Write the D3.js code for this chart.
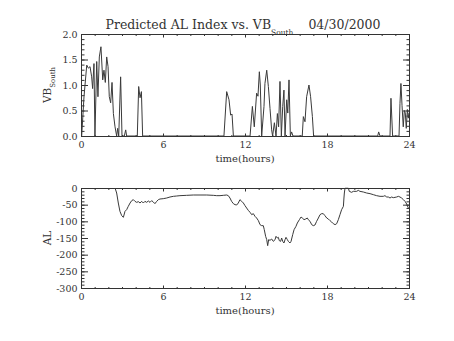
<!DOCTYPE html>
<html>
<head>
<meta charset="utf-8">
<script src="https://cdn.jsdelivr.net/npm/d3@7"></script>
<style>
  html, body { margin: 0; padding: 0; background: #fff; }
  svg { display: block; }
  text { font-family: "DejaVu Serif", "Liberation Serif", serif; fill: #333; }
</style>
</head>
<body>
<svg id="chart" width="454" height="341"></svg>
<script>
// Solar wind driver VB_South (mV/m) through the day
const vbTime = [0, 0.05, 0.22, 0.42, 0.54, 0.66, 0.78, 0.85, 0.95, 1.02, 1.15, 1.24, 1.34, 1.46, 1.59, 1.68, 1.78, 1.88, 1.98, 2.07, 2.17, 2.27, 2.37, 2.49, 2.61, 2.68, 2.76, 2.9, 3.0, 3.17, 3.27, 3.34,
  4.12, 4.22, 4.32, 4.42, 4.51,
  10.46, 10.66, 10.83, 10.95, 11.05, 11.15,
  12.37, 12.54, 12.68, 12.85, 12.95, 13.05, 13.12, 13.22, 13.39, 13.46, 13.59, 13.71, 13.83, 13.95, 14.02, 14.15, 14.27, 14.37, 14.46, 14.56, 14.66, 14.76, 14.85, 14.93, 15.05, 15.13, 15.22, 15.32, 15.41, 15.51,
  16.19, 16.27, 16.39, 16.51, 16.68, 16.8, 16.93, 17.02,
  21.71, 21.78, 21.88,
  22.61, 22.68, 22.8,
  23.27, 23.34, 23.41, 23.49, 23.58, 23.66, 23.73, 23.8, 23.88, 23.95, 24];
const vbValue = [0, 0, 0.77, 1.39, 1.33, 1.36, 1.16, 0.93, 1.42, 0, 1.46, 0.77, 1.55, 1.75, 1.1, 1.29, 1.05, 1.55, 1.36, 0.77, 0.65, 1.05, 0.44, 0.18, 0, 0.15, 0, 1.16, 0, 0, 0.12, 0,
  0, 0.97, 0.75, 0.87, 0,
  0, 0.87, 0.71, 0.41, 0.43, 0,
  0, 0.58, 0.18, 0.84, 0.78, 1.26, 1.0, 0, 0.58, 1.03, 1.29, 0.97, 0.54, 0.12, 0, 0.26, 0, 0.44, 0.18, 1.07, 0, 0.58, 0.9, 0, 0.71, 0.45, 1.1, 0, 0.08, 0,
  0, 0.38, 0.28, 0.77, 1.0, 0.77, 0.38, 0,
  0, 0.08, 0,
  0, 0.74, 0,
  0, 0.64, 1.03, 0.6, 0.18, 0.5, 0.45, 0.15, 0.52, 0.35, 0.45];

// Predicted AL index (nT)
const alTime = [2.49, 2.61, 2.73, 2.85, 2.98, 3.1, 3.22, 3.34, 3.46, 3.59, 3.71, 3.83, 3.95, 4.07, 4.2, 4.32, 4.44, 4.56, 4.68, 4.8, 4.93, 5.05, 5.17, 5.29, 5.41, 5.54, 5.66, 5.78, 6.02, 6.27, 6.51, 6.76, 7.0, 7.24, 7.73, 8.22, 8.71, 9.2, 9.68, 9.93, 10.17, 10.41, 10.66, 10.78, 10.9, 11.02, 11.15, 11.27, 11.39, 11.51, 11.63, 11.76, 11.88, 12.0, 12.12, 12.24, 12.37, 12.49, 12.61, 12.73, 12.85, 12.98, 13.1, 13.22, 13.34, 13.41, 13.51, 13.59, 13.66, 13.73, 13.83, 13.95, 14.07, 14.2, 14.27, 14.37, 14.44, 14.51, 14.61, 14.68, 14.76, 14.85, 14.93, 15.0, 15.1, 15.17, 15.29, 15.37, 15.49, 15.59, 15.73, 15.83, 15.98, 16.1, 16.22, 16.32, 16.44, 16.56, 16.63, 16.76, 16.88, 17.0, 17.12, 17.24, 17.37, 17.49, 17.61, 17.73, 17.85, 17.98, 18.1, 18.22, 18.34, 18.46, 18.59, 18.71, 18.83, 18.95, 19.07, 19.2, 19.24, 19.27, 19.32, 19.56, 19.63, 19.8, 19.93, 20.17, 20.29, 20.41, 20.66, 20.9, 21.15, 21.39, 21.63, 21.88, 22.12, 22.24, 22.37, 22.49, 22.61, 22.73, 22.85, 22.98, 23.1, 23.22, 23.34, 23.46, 23.59, 23.71, 23.83, 23.95];
const alValue = [0, -15, -45, -70, -83, -88, -70, -65, -55, -45, -38, -35, -40, -43, -41, -45, -40, -45, -40, -43, -39, -43, -38, -42, -47, -40, -35, -33, -32, -30, -27, -25, -24, -23, -22, -21, -21, -21, -22, -23, -23, -22, -21, -23, -30, -40, -47, -50, -51, -45, -35, -40, -45, -53, -60, -67, -73, -80, -77, -85, -90, -98, -110, -113, -113, -125, -145, -155, -173, -155, -157, -153, -160, -155, -145, -150, -148, -158, -160, -150, -160, -165, -155, -148, -155, -160, -165, -160, -140, -125, -115, -105, -95, -87, -91, -95, -93, -90, -95, -100, -110, -113, -111, -100, -90, -80, -77, -77, -83, -90, -93, -98, -102, -107, -110, -107, -95, -80, -65, -55, -30, -15, 0, 0, -10, -13, -10, -10, -7, -10, -12, -15, -17, -20, -23, -25, -25, -23, -27, -27, -30, -27, -29, -28, -27, -25, -27, -30, -35, -40, -48, -60];

const hourTicks = [0, 6, 12, 18, 24];
const hourLabels = ["0", "6", "12", "18", "24"];
const vbTicks = [0, 0.5, 1.0, 1.5, 2.0];
const vbLabels = ["0.0", "0.5", "1.0", "1.5", "2.0"];
const alTicks = [-300, -250, -200, -150, -100, -50, 0];
const alLabels = ["-300", "-250", "-200", "-150", "-100", "-50", "0"];

const svg = d3.select("#chart");
const left = 81, right = 409;

function panel(top, bottom, yDomain, yTicks, yLabels, yMinorStep, times, values, id) {
  const x = d3.scaleLinear().domain([0, 24]).range([left, right]);
  const y = d3.scaleLinear().domain(yDomain).range([bottom, top]);
  const h = bottom - top, w = right - left;
  const g = svg.append("g");

  g.append("clipPath").attr("id", id).append("rect")
    .attr("x", left).attr("y", top - 0.5).attr("width", w).attr("height", h + 1);

  const xMinor = d3.range(0, 24.01, 1);
  const yMinor = d3.range(yDomain[0], yDomain[1] + yMinorStep / 2, yMinorStep);
  const xMajLen = 3, xMinLen = 1.5, yMajLen = 6.5, yMinLen = 3;

  const styleAxis = sel => {
    sel.select(".domain").remove();
    sel.selectAll("line").attr("stroke", "#333");
    sel.selectAll("text").attr("font-size", 9.5).attr("font-family", "DejaVu Serif, serif").attr("fill", "#333");
  };

  // bottom axis with labels
  g.append("g").attr("transform", `translate(0,${bottom + 0.5})`)
    .call(d3.axisBottom(x).tickValues(xMinor).tickSizeInner(-xMinLen).tickSizeOuter(0).tickFormat(""))
    .call(styleAxis);
  g.append("g").attr("transform", `translate(0,${bottom + 0.5})`)
    .call(d3.axisBottom(x).tickValues(hourTicks).tickSizeInner(-xMajLen).tickSizeOuter(0)
      .tickPadding(5).tickFormat((d, i) => hourLabels[i]))
    .call(styleAxis);
  // top axis (ticks only)
  g.append("g").attr("transform", `translate(0,${top + 0.5})`)
    .call(d3.axisTop(x).tickValues(xMinor).tickSizeInner(-xMinLen).tickSizeOuter(0).tickFormat(""))
    .call(styleAxis);
  g.append("g").attr("transform", `translate(0,${top + 0.5})`)
    .call(d3.axisTop(x).tickValues(hourTicks).tickSizeInner(-xMajLen).tickSizeOuter(0).tickFormat(""))
    .call(styleAxis);
  // left axis with labels
  g.append("g").attr("transform", `translate(${left + 0.5},0)`)
    .call(d3.axisLeft(y).tickValues(yMinor).tickSizeInner(-yMinLen).tickSizeOuter(0).tickFormat(""))
    .call(styleAxis);
  g.append("g").attr("transform", `translate(${left + 0.5},0)`)
    .call(d3.axisLeft(y).tickValues(yTicks).tickSizeInner(-yMajLen).tickSizeOuter(0)
      .tickPadding(4).tickFormat((d, i) => yLabels[i]))
    .call(styleAxis);
  // right axis (ticks only)
  g.append("g").attr("transform", `translate(${right + 0.5},0)`)
    .call(d3.axisRight(y).tickValues(yMinor).tickSizeInner(-yMinLen).tickSizeOuter(0).tickFormat(""))
    .call(styleAxis);
  g.append("g").attr("transform", `translate(${right + 0.5},0)`)
    .call(d3.axisRight(y).tickValues(yTicks).tickSizeInner(-yMajLen).tickSizeOuter(0).tickFormat(""))
    .call(styleAxis);

  // frame
  g.append("rect").attr("x", left + 0.5).attr("y", top + 0.5)
    .attr("width", w).attr("height", h)
    .attr("fill", "none").attr("stroke", "#333").attr("stroke-width", 1);

  // data trace
  const pts = times.map((t, i) => [t, values[i]]);
  g.append("path").datum(pts)
    .attr("clip-path", `url(#${id})`)
    .attr("fill", "none").attr("stroke", "#3a3a3a").attr("stroke-width", 1)
    .attr("d", d3.line().x(d => x(d[0])).y(d => y(d[1])));

  // x title
  g.append("text").attr("x", (left + right) / 2).attr("y", bottom + 26)
    .attr("text-anchor", "middle").attr("font-size", 10).text("time(hours)");
  return g;
}

panel(34, 136, [0, 2], vbTicks, vbLabels, 0.1, vbTime, vbValue, "clipTop");
panel(188, 288, [-300, 0], alTicks, alLabels, 10, alTime, alValue, "clipBot");

// title
const title = svg.append("text").attr("x", 243).attr("y", 28.5)
  .attr("text-anchor", "middle").attr("font-size", 12.5);
title.append("tspan").text("Predicted AL Index vs. VB");
title.append("tspan").attr("font-size", 7.5).attr("dy", 6).text("South");
title.append("tspan").attr("dy", -6).attr("dx", 15).text("04/30/2000");

// y titles
const yt1 = svg.append("text").attr("transform", "translate(51,85) rotate(-90)")
  .attr("text-anchor", "middle").attr("font-size", 10.5);
yt1.append("tspan").text("VB");
yt1.append("tspan").attr("font-size", 7).attr("dy", 4).text("South");

svg.append("text").attr("transform", "translate(51,238) rotate(-90)")
  .attr("text-anchor", "middle").attr("font-size", 10.5).text("AL");
</script>
</body>
</html>
